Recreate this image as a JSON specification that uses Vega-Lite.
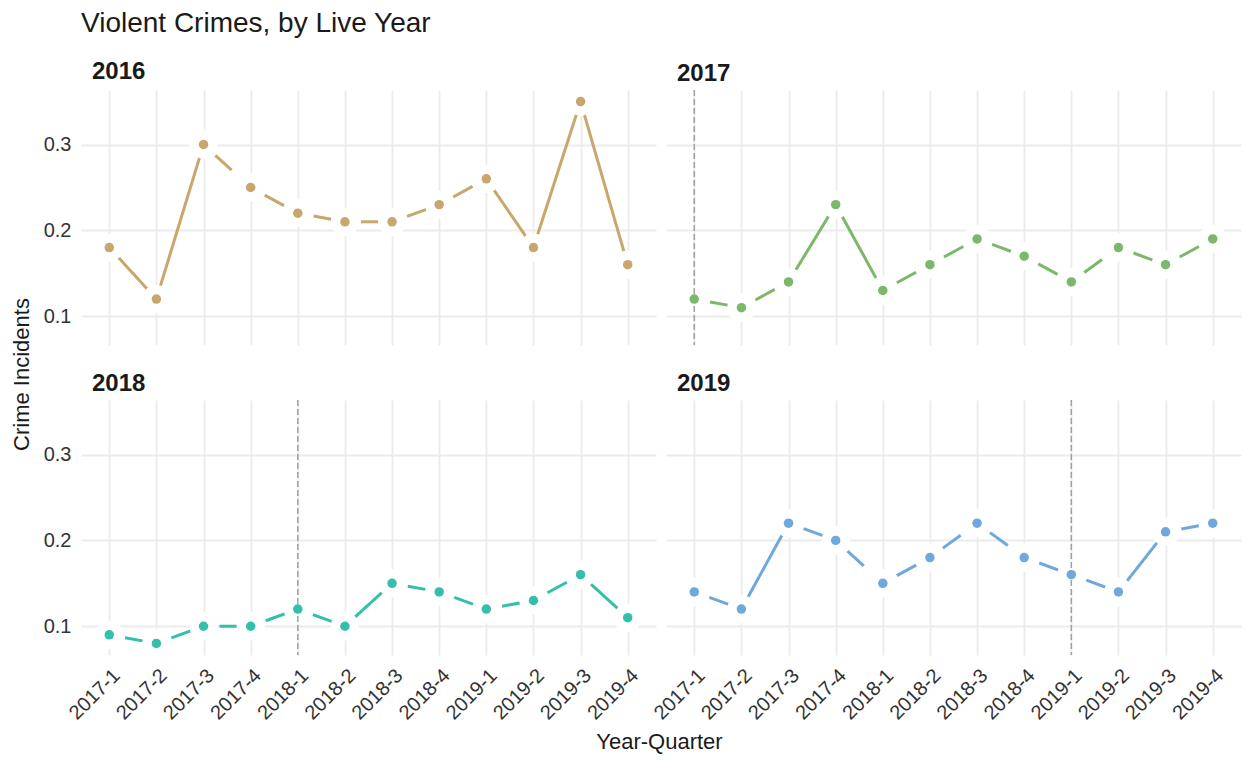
{
  "$schema": "https://vega.github.io/schema/vega-lite/v6.json",
  "background": "white",
  "padding": {"left": 10, "top": 10, "right": 8, "bottom": 6},
  "bounds": "flush",
  "config": {
    "font": "Liberation Sans",
    "view": {"stroke": null},
    "axis": {
      "domain": false,
      "ticks": false,
      "grid": true,
      "gridColor": "#EBEBEB",
      "gridWidth": 1.8,
      "labelFont": "Liberation Sans",
      "labelFontSize": 20,
      "labelColor": "#333333",
      "titleFont": "Liberation Sans",
      "titleFontSize": 22,
      "titleFontWeight": "normal",
      "titleColor": "#1A1A1A"
    },
    "axisX": {"labelAngle": -45, "labelPadding": 10, "titlePadding": 8},
    "axisY": {"labelPadding": 10, "titlePadding": 10},
    "title": {
      "font": "Liberation Sans",
      "anchor": "start",
      "frame": "group",
      "fontSize": 24,
      "fontWeight": "bold",
      "color": "#1A1A1A",
      "baseline": "alphabetic",
      "offset": 3,
      "dx": 11
    }
  },
  "title": {
    "text": "Violent Crimes, by Live Year",
    "anchor": "start",
    "frame": "group",
    "fontSize": 28,
    "fontWeight": "normal",
    "baseline": "alphabetic",
    "dx": 0,
    "offset": 0
  },
  "data": {
    "values": [
      {"live_year": 2016, "quarter": "2017-1", "incidents": 0.18, "change": "sharp"},
      {"live_year": 2016, "quarter": "2017-2", "incidents": 0.12, "change": "sharp"},
      {"live_year": 2016, "quarter": "2017-3", "incidents": 0.30, "change": "gradual"},
      {"live_year": 2016, "quarter": "2017-4", "incidents": 0.25, "change": "gradual"},
      {"live_year": 2016, "quarter": "2018-1", "incidents": 0.22, "change": "gradual"},
      {"live_year": 2016, "quarter": "2018-2", "incidents": 0.21, "change": "gradual"},
      {"live_year": 2016, "quarter": "2018-3", "incidents": 0.21, "change": "gradual"},
      {"live_year": 2016, "quarter": "2018-4", "incidents": 0.23, "change": "gradual"},
      {"live_year": 2016, "quarter": "2019-1", "incidents": 0.26, "change": "sharp"},
      {"live_year": 2016, "quarter": "2019-2", "incidents": 0.18, "change": "sharp"},
      {"live_year": 2016, "quarter": "2019-3", "incidents": 0.35, "change": "sharp"},
      {"live_year": 2016, "quarter": "2019-4", "incidents": 0.16, "change": null},

      {"live_year": 2017, "quarter": "2017-1", "incidents": 0.12, "change": "gradual"},
      {"live_year": 2017, "quarter": "2017-2", "incidents": 0.11, "change": "gradual"},
      {"live_year": 2017, "quarter": "2017-3", "incidents": 0.14, "change": "sharp"},
      {"live_year": 2017, "quarter": "2017-4", "incidents": 0.23, "change": "sharp"},
      {"live_year": 2017, "quarter": "2018-1", "incidents": 0.13, "change": "gradual"},
      {"live_year": 2017, "quarter": "2018-2", "incidents": 0.16, "change": "gradual"},
      {"live_year": 2017, "quarter": "2018-3", "incidents": 0.19, "change": "gradual"},
      {"live_year": 2017, "quarter": "2018-4", "incidents": 0.17, "change": "gradual"},
      {"live_year": 2017, "quarter": "2019-1", "incidents": 0.14, "change": "gradual"},
      {"live_year": 2017, "quarter": "2019-2", "incidents": 0.18, "change": "gradual"},
      {"live_year": 2017, "quarter": "2019-3", "incidents": 0.16, "change": "gradual"},
      {"live_year": 2017, "quarter": "2019-4", "incidents": 0.19, "change": null},

      {"live_year": 2018, "quarter": "2017-1", "incidents": 0.09, "change": "gradual"},
      {"live_year": 2018, "quarter": "2017-2", "incidents": 0.08, "change": "gradual"},
      {"live_year": 2018, "quarter": "2017-3", "incidents": 0.10, "change": "gradual"},
      {"live_year": 2018, "quarter": "2017-4", "incidents": 0.10, "change": "gradual"},
      {"live_year": 2018, "quarter": "2018-1", "incidents": 0.12, "change": "gradual"},
      {"live_year": 2018, "quarter": "2018-2", "incidents": 0.10, "change": "sharp"},
      {"live_year": 2018, "quarter": "2018-3", "incidents": 0.15, "change": "gradual"},
      {"live_year": 2018, "quarter": "2018-4", "incidents": 0.14, "change": "gradual"},
      {"live_year": 2018, "quarter": "2019-1", "incidents": 0.12, "change": "gradual"},
      {"live_year": 2018, "quarter": "2019-2", "incidents": 0.13, "change": "gradual"},
      {"live_year": 2018, "quarter": "2019-3", "incidents": 0.16, "change": "sharp"},
      {"live_year": 2018, "quarter": "2019-4", "incidents": 0.11, "change": null},

      {"live_year": 2019, "quarter": "2017-1", "incidents": 0.14, "change": "gradual"},
      {"live_year": 2019, "quarter": "2017-2", "incidents": 0.12, "change": "sharp"},
      {"live_year": 2019, "quarter": "2017-3", "incidents": 0.22, "change": "gradual"},
      {"live_year": 2019, "quarter": "2017-4", "incidents": 0.20, "change": "gradual"},
      {"live_year": 2019, "quarter": "2018-1", "incidents": 0.15, "change": "gradual"},
      {"live_year": 2019, "quarter": "2018-2", "incidents": 0.18, "change": "gradual"},
      {"live_year": 2019, "quarter": "2018-3", "incidents": 0.22, "change": "gradual"},
      {"live_year": 2019, "quarter": "2018-4", "incidents": 0.18, "change": "gradual"},
      {"live_year": 2019, "quarter": "2019-1", "incidents": 0.16, "change": "gradual"},
      {"live_year": 2019, "quarter": "2019-2", "incidents": 0.14, "change": "sharp"},
      {"live_year": 2019, "quarter": "2019-3", "incidents": 0.21, "change": "gradual"},
      {"live_year": 2019, "quarter": "2019-4", "incidents": 0.22, "change": null}
    ]
  },
  "columns": 2,
  "spacing": {"row": 55, "column": 10},
  "concat": [
    {
      "title": {"text": "2016"},
      "width": 575,
      "height": 255,
      "transform": [{"filter": "datum.live_year == 2016"}],
      "encoding": {
        "x": {"field": "quarter", "type": "ordinal", "scale": {"type": "point", "padding": 0.6}, "axis": {"labels": false, "title": null}},
        "y": {"field": "incidents", "type": "quantitative", "scale": {"domain": [0.0665, 0.3635], "nice": false, "zero": false},
              "axis": {"values": [0.1, 0.2, 0.3], "format": ".1f", "title": "Crime Incidents", "titleY": 284}}
      },
      "layer": [
        {
          "transform": [
            {"window": [{"op": "lead", "field": "quarter", "as": "next_quarter"}, {"op": "lead", "field": "incidents", "as": "next_incidents"}], "sort": [{"field": "quarter", "order": "ascending"}]},
            {"filter": "datum.next_quarter != null"}
          ],
          "mark": {"type": "rule", "strokeWidth": 3, "strokeDashOffset": 36},
          "encoding": {
            "x2": {"field": "next_quarter"},
            "y2": {"field": "next_incidents"},
            "color": {"field": "live_year", "type": "nominal", "scale": {"domain": [2016, 2017, 2018, 2019], "range": ["#C9A66B", "#7CB86A", "#33BFAA", "#6FA8DC"]}, "legend": null},
            "strokeDash": {"field": "change", "type": "nominal", "scale": {"domain": ["sharp", "gradual"], "range": [[1, 0], [22, 30]]}, "legend": null}
          }
        },
        {"mark": {"type": "point", "filled": true, "color": "white", "opacity": 1, "size": 800}, "encoding": {}},
        {
          "transform": [{"filter": "datum.quarter == datum.live_year + '-1'"}],
          "mark": {"type": "rule", "color": "#A0A0A0", "strokeWidth": 1.5, "strokeDash": [6, 3]},
          "encoding": {"y": {"value": 0}, "y2": {"value": 255}}
        },
        {"mark": {"type": "point", "filled": true, "opacity": 1, "size": 90}, "encoding": {"color": {"field": "live_year", "type": "nominal", "legend": null}}}
      ]
    },
    {
      "title": {"text": "2017"},
      "width": 575,
      "height": 255,
      "transform": [{"filter": "datum.live_year == 2017"}],
      "encoding": {
        "x": {"field": "quarter", "type": "ordinal", "scale": {"type": "point", "padding": 0.6}, "axis": {"labels": false, "title": null}},
        "y": {"field": "incidents", "type": "quantitative", "scale": {"domain": [0.0665, 0.3635], "nice": false, "zero": false},
              "axis": {"values": [0.1, 0.2, 0.3], "labels": false, "title": null}}
      },
      "layer": [
        {
          "transform": [
            {"window": [{"op": "lead", "field": "quarter", "as": "next_quarter"}, {"op": "lead", "field": "incidents", "as": "next_incidents"}], "sort": [{"field": "quarter", "order": "ascending"}]},
            {"filter": "datum.next_quarter != null"}
          ],
          "mark": {"type": "rule", "strokeWidth": 3, "strokeDashOffset": 36},
          "encoding": {
            "x2": {"field": "next_quarter"},
            "y2": {"field": "next_incidents"},
            "color": {"field": "live_year", "type": "nominal", "scale": {"domain": [2016, 2017, 2018, 2019], "range": ["#C9A66B", "#7CB86A", "#33BFAA", "#6FA8DC"]}, "legend": null},
            "strokeDash": {"field": "change", "type": "nominal", "scale": {"domain": ["sharp", "gradual"], "range": [[1, 0], [22, 30]]}, "legend": null}
          }
        },
        {"mark": {"type": "point", "filled": true, "color": "white", "opacity": 1, "size": 800}, "encoding": {}},
        {
          "transform": [{"filter": "datum.quarter == datum.live_year + '-1'"}],
          "mark": {"type": "rule", "color": "#A0A0A0", "strokeWidth": 1.5, "strokeDash": [6, 3]},
          "encoding": {"y": {"value": 0}, "y2": {"value": 255}}
        },
        {"mark": {"type": "point", "filled": true, "opacity": 1, "size": 90}, "encoding": {"color": {"field": "live_year", "type": "nominal", "legend": null}}}
      ]
    },
    {
      "title": {"text": "2018"},
      "width": 575,
      "height": 255,
      "transform": [{"filter": "datum.live_year == 2018"}],
      "encoding": {
        "x": {"field": "quarter", "type": "ordinal", "scale": {"type": "point", "padding": 0.6}, "axis": {"title": "Year-Quarter", "titleX": 578}},
        "y": {"field": "incidents", "type": "quantitative", "scale": {"domain": [0.0665, 0.3635], "nice": false, "zero": false},
              "axis": {"values": [0.1, 0.2, 0.3], "format": ".1f", "title": null}}
      },
      "layer": [
        {
          "transform": [
            {"window": [{"op": "lead", "field": "quarter", "as": "next_quarter"}, {"op": "lead", "field": "incidents", "as": "next_incidents"}], "sort": [{"field": "quarter", "order": "ascending"}]},
            {"filter": "datum.next_quarter != null"}
          ],
          "mark": {"type": "rule", "strokeWidth": 3, "strokeDashOffset": 36},
          "encoding": {
            "x2": {"field": "next_quarter"},
            "y2": {"field": "next_incidents"},
            "color": {"field": "live_year", "type": "nominal", "scale": {"domain": [2016, 2017, 2018, 2019], "range": ["#C9A66B", "#7CB86A", "#33BFAA", "#6FA8DC"]}, "legend": null},
            "strokeDash": {"field": "change", "type": "nominal", "scale": {"domain": ["sharp", "gradual"], "range": [[1, 0], [22, 30]]}, "legend": null}
          }
        },
        {"mark": {"type": "point", "filled": true, "color": "white", "opacity": 1, "size": 800}, "encoding": {}},
        {
          "transform": [{"filter": "datum.quarter == datum.live_year + '-1'"}],
          "mark": {"type": "rule", "color": "#A0A0A0", "strokeWidth": 1.5, "strokeDash": [6, 3]},
          "encoding": {"y": {"value": 0}, "y2": {"value": 255}}
        },
        {"mark": {"type": "point", "filled": true, "opacity": 1, "size": 90}, "encoding": {"color": {"field": "live_year", "type": "nominal", "legend": null}}}
      ]
    },
    {
      "title": {"text": "2019"},
      "width": 575,
      "height": 255,
      "transform": [{"filter": "datum.live_year == 2019"}],
      "encoding": {
        "x": {"field": "quarter", "type": "ordinal", "scale": {"type": "point", "padding": 0.6}, "axis": {"title": null}},
        "y": {"field": "incidents", "type": "quantitative", "scale": {"domain": [0.0665, 0.3635], "nice": false, "zero": false},
              "axis": {"values": [0.1, 0.2, 0.3], "labels": false, "title": null}}
      },
      "layer": [
        {
          "transform": [
            {"window": [{"op": "lead", "field": "quarter", "as": "next_quarter"}, {"op": "lead", "field": "incidents", "as": "next_incidents"}], "sort": [{"field": "quarter", "order": "ascending"}]},
            {"filter": "datum.next_quarter != null"}
          ],
          "mark": {"type": "rule", "strokeWidth": 3, "strokeDashOffset": 36},
          "encoding": {
            "x2": {"field": "next_quarter"},
            "y2": {"field": "next_incidents"},
            "color": {"field": "live_year", "type": "nominal", "scale": {"domain": [2016, 2017, 2018, 2019], "range": ["#C9A66B", "#7CB86A", "#33BFAA", "#6FA8DC"]}, "legend": null},
            "strokeDash": {"field": "change", "type": "nominal", "scale": {"domain": ["sharp", "gradual"], "range": [[1, 0], [22, 30]]}, "legend": null}
          }
        },
        {"mark": {"type": "point", "filled": true, "color": "white", "opacity": 1, "size": 800}, "encoding": {}},
        {
          "transform": [{"filter": "datum.quarter == datum.live_year + '-1'"}],
          "mark": {"type": "rule", "color": "#A0A0A0", "strokeWidth": 1.5, "strokeDash": [6, 3]},
          "encoding": {"y": {"value": 0}, "y2": {"value": 255}}
        },
        {"mark": {"type": "point", "filled": true, "opacity": 1, "size": 90}, "encoding": {"color": {"field": "live_year", "type": "nominal", "legend": null}}}
      ]
    }
  ],
  "resolve": {"scale": {"color": "shared"}}
}
